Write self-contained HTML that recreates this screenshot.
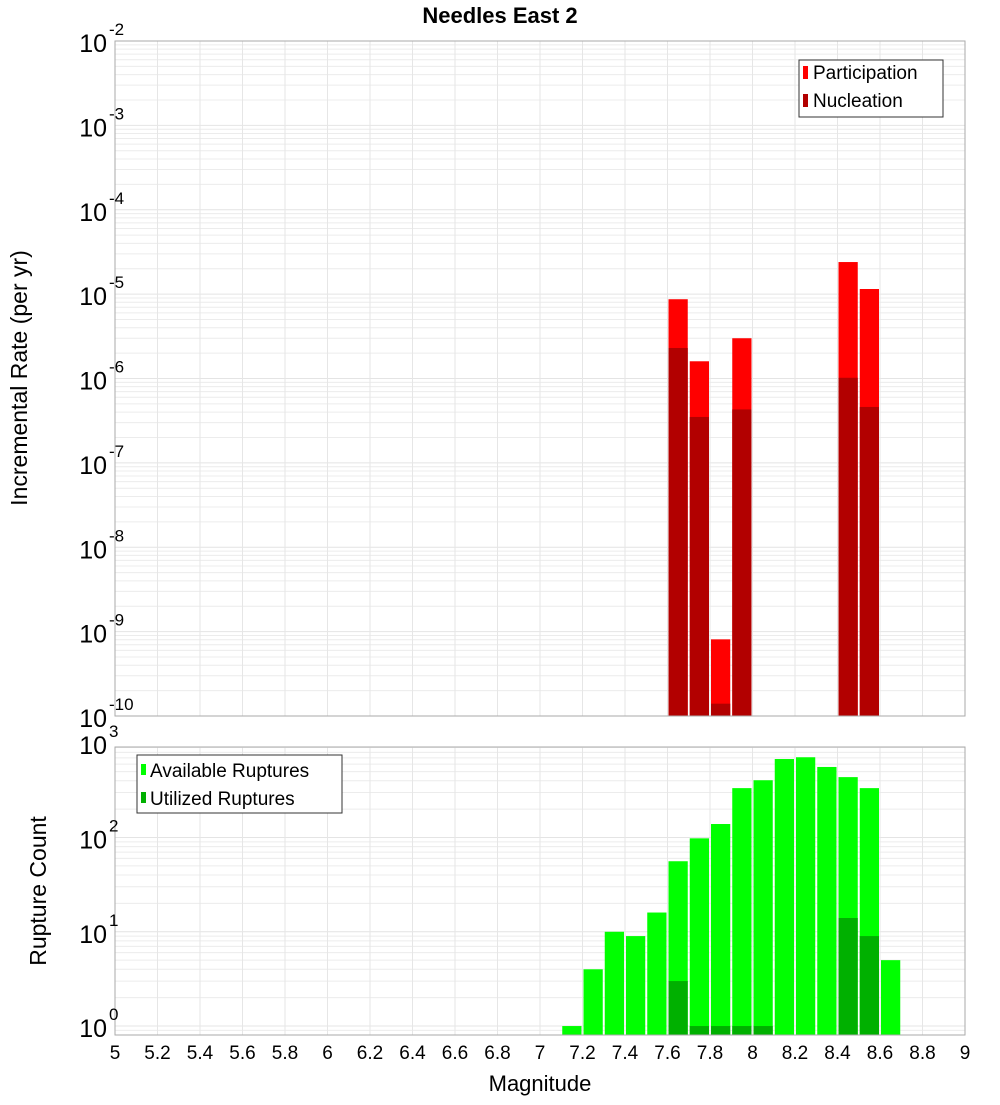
<!DOCTYPE html>
<html><head><meta charset="utf-8"><style>
body{margin:0;background:#fff;width:1000px;height:1100px;overflow:hidden}
svg{font-family:"Liberation Sans","DejaVu Sans",sans-serif}
</style></head><body>
<svg id="c" width="1000" height="1100" xmlns="http://www.w3.org/2000/svg"></svg>
<script>
const mags=[7.15,7.25,7.35,7.45,7.55,7.65,7.75,7.85,7.95,8.05,8.15,8.25,8.35,8.45,8.55,8.65];
const participation=[0,0,0,0,0,8.7e-6,1.6e-6,8.1e-10,3.0e-6,0,0,0,0,2.4e-5,1.15e-5,0];
const nucleation=[0,0,0,0,0,2.3e-6,3.5e-7,1.4e-10,4.3e-7,0,0,0,0,1.02e-6,4.6e-7,0];
const available=[1,4,10,9,16,56,98,139,334,405,680,710,560,437,334,5];
const utilized=[0,0,0,0,0,3,1,1,1,1,0,0,0,14,9,0];
const xTicks=[5,5.2,5.4,5.6,5.8,6,6.2,6.4,6.6,6.8,7,7.2,7.4,7.6,7.8,8,8.2,8.4,8.6,8.8,9];
const topDecades=[-10,-9,-8,-7,-6,-5,-4,-3,-2];
const botDecades=[0,1,2,3];

const NS="http://www.w3.org/2000/svg";
const svg=document.getElementById('c');
function mk(t,a,p){const e=document.createElementNS(NS,t);for(const k in a)e.setAttribute(k,a[k]);(p||svg).appendChild(e);return e;}
const X0=115,X1=965;
const xs=m=>X0+(m-5)/4*(X1-X0);
const T={y0:41,y1:716,lmin:-10,lmax:-2};
const B={y0:747,y1:1035,lmin:-0.095,lmax:2.96};
const ys=(P,v)=>P.y1-(Math.log10(v)-P.lmin)/(P.lmax-P.lmin)*(P.y1-P.y0);

function grid(P,name){
  const g=mk('g',{});
  
  
  for(let d=Math.floor(P.lmin);d<=Math.ceil(P.lmax);d++){
    for(let k=1;k<10;k++){
      const v=k*Math.pow(10,d);const lv=Math.log10(v);
      if(lv<P.lmin-1e-9||lv>P.lmax+1e-9)continue;
      const y=ys(P,v);
      mk('line',{x1:X0,x2:X1,y1:y,y2:y,stroke:k==1?'#e4e4e4':'#ececec','stroke-width':1},g);
    }
  }
  xTicks.forEach(t=>{const x=xs(t);mk('line',{x1:x,x2:x,y1:P.y0,y2:P.y1,stroke:'#e6e6e6','stroke-width':1},g);});
}
grid(T,'top');grid(B,'bottom');

function bars(P,vals,color,name){
  vals.forEach((v,i)=>{
    if(!v)return;
    const x=xs(mags[i]-0.05)+1,w=xs(mags[i]+0.05)-xs(mags[i]-0.05)-2;
    const y=Math.max(ys(P,v),P.y0);
    const r=mk('rect',{x:x,y:y,width:w,height:P.y1-y,fill:color});
    
    
  });
}
bars(T,participation,'#ff0000','participation');
bars(T,nucleation,'#b20000','nucleation');
bars(B,available,'#00ff00','available');
bars(B,utilized,'#00b000','utilized');

// frames
[T,B].forEach((P,i)=>{
  const r=mk('rect',{x:X0,y:P.y0,width:X1-X0,height:P.y1-P.y0,fill:'none',stroke:'#aaaaaa','stroke-width':1});
  
  
});

// y tick labels
function ylabels(P,decs,name){
  decs.forEach(d=>{
    const y=ys(P,Math.pow(10,d));
    const t=mk('text',{x:107,y:y+11,'text-anchor':'end','font-size':25,fill:'#000'});
    
    
    t.textContent='10';
    const s=mk('text',{x:109,y:y-6,'font-size':17,fill:'#000'});
    
    
    s.textContent=String(d);
  });
}
ylabels(T,topDecades,'top');ylabels(B,botDecades,'bottom');

// x tick labels
xTicks.forEach(t=>{
  const e=mk('text',{x:xs(t),y:1059,'text-anchor':'middle','font-size':19,fill:'#000'});
  
  
  e.textContent=String(t);
});
</script>
<svg width="1000" height="1100" style="position:absolute;left:0;top:0" xmlns="http://www.w3.org/2000/svg">
<text x="500" y="23" text-anchor="middle" font-size="22" font-weight="bold">Needles East 2</text>
<text x="540" y="1091" text-anchor="middle" font-size="22">Magnitude</text>
<text transform="translate(27,378) rotate(-90)" text-anchor="middle" font-size="23">Incremental Rate (per yr)</text>
<text transform="translate(46,891) rotate(-90)" text-anchor="middle" font-size="23">Rupture Count</text>
<g>
<rect x="799" y="60" width="144" height="57" fill="#fff" stroke="#333" stroke-width="1"/>
<rect x="803" y="66" width="5" height="13" fill="#ff0000"/>
<text x="813" y="79" font-size="19">Participation</text>
<rect x="803" y="94" width="5" height="13" fill="#b20000"/>
<text x="813" y="107" font-size="19">Nucleation</text>
</g>
<g>
<rect x="137" y="755" width="205" height="58" fill="#fff" stroke="#333" stroke-width="1"/>
<rect x="141" y="764" width="5" height="11" fill="#00ff00"/>
<text x="150" y="777" font-size="19">Available Ruptures</text>
<rect x="141" y="792" width="5" height="11" fill="#00b000"/>
<text x="150" y="805" font-size="19">Utilized Ruptures</text>
</g>
</svg>
</body></html>
